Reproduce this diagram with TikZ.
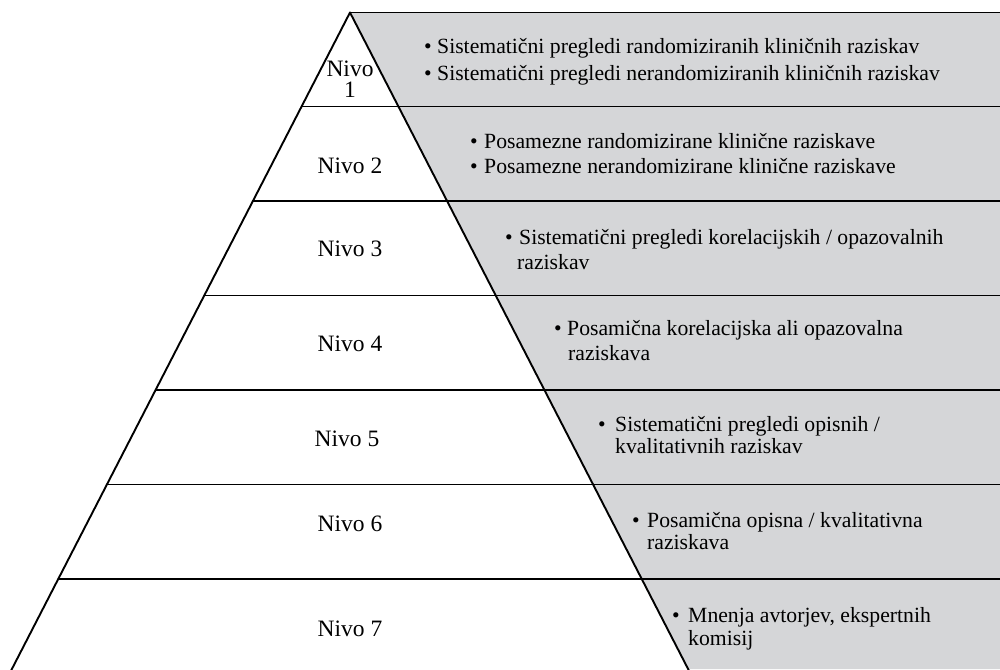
\documentclass[tikz,border=0pt]{standalone}
\usepackage{fontspec}
\setmainfont{Liberation Serif}
\usetikzlibrary{calc}
\definecolor{pgray}{RGB}{213,214,216}
\begin{document}
\begin{tikzpicture}[x=1pt,y=-1pt,
  edge/.style={line width=1.9pt, black, line cap=round},
  lvl/.style={font=\fontsize{23.5}{21}\selectfont, anchor=base, inner sep=0pt},
  bul/.style={font=\fontsize{21.7}{26}\selectfont, anchor=base west, inner sep=0pt},
  itm/.style={font=\fontsize{21.7}{26}\selectfont, anchor=base west, inner sep=0pt}]
\useasboundingbox (0,0) rectangle (1000,669);
\begin{scope}
\clip (0,0) rectangle (1000,669);
\coordinate (apex) at (350,12.5);
\coordinate (bl) at (11.9,669);
\coordinate (br) at (688.1,669);
\coordinate (tr) at (1000,12.5);
\coordinate (brr) at (1000,669);
\fill[pgray] (apex) -- (tr) -- (brr) -- (br) -- cycle;
% horizontal dividers
\coordinate (l1) at (301.6,106.5); \coordinate (r1) at (1000,106.5);
\coordinate (l2) at (252.9,201);   \coordinate (r2) at (1000,201);
\coordinate (l3) at (204.3,295.5); \coordinate (r3) at (1000,295.5);
\coordinate (l4) at (155.6,390);   \coordinate (r4) at (1000,390);
\coordinate (l5) at (106.9,484.5); \coordinate (r5) at (1000,484.5);
\coordinate (l6) at (58.3,579);    \coordinate (r6) at (1000,579);
\foreach \i in {1,...,6} \draw[edge] (l\i) -- (r\i);
\draw[edge] (apex) -- (tr);
\draw[edge] (apex) -- ($(apex)!1.05!(bl)$);
\draw[edge] (apex) -- ($(apex)!1.05!(br)$);
\end{scope}
% level labels
\node[lvl, anchor=center, align=center] (n1) at (350,79.5) {Nivo\\1};
\node[lvl] (n2) at (350,173) {Nivo 2};
\node[lvl] (n3) at (350,256) {Nivo 3};
\node[lvl] (n4) at (350,351) {Nivo 4};
\node[lvl] (n5) at (347,446) {Nivo 5};
\node[lvl] (n6) at (350,531) {Nivo 6};
\node[lvl] (n7) at (350,636) {Nivo 7};
% items
\node[bul] (b1a) at (424,53) {\textbullet};
\node[itm] (t1a) at (437,53) {Sistematični pregledi randomiziranih kliničnih raziskav};
\node[bul] (b1b) at (424,80) {\textbullet};
\node[itm] (t1b) at (437,80) {Sistematični pregledi nerandomiziranih kliničnih raziskav};
\node[bul] (b2a) at (470,148) {\textbullet};
\node[itm] (t2a) at (484,148) {Posamezne randomizirane klinične raziskave};
\node[bul] (b2b) at (470,173) {\textbullet};
\node[itm] (t2b) at (484,173) {Posamezne nerandomizirane klinične raziskave};
\node[bul] (b3) at (505,244) {\textbullet};
\node[itm] (t3a) at (519,244) {Sistematični pregledi korelacijskih / opazovalnih};
\node[itm] (t3b) at (517,269) {raziskav};
\node[bul] (b4) at (554,335) {\textbullet};
\node[itm] (t4a) at (567,335) {Posamična korelacijska ali opazovalna};
\node[itm] (t4b) at (568,360) {raziskava};
\node[bul] (b5) at (598,431) {\textbullet};
\node[itm] (t5a) at (615,431) {Sistematični pregledi opisnih /};
\node[itm] (t5b) at (615,453) {kvalitativnih raziskav};
\node[bul] (b6) at (632,527) {\textbullet};
\node[itm] (t6a) at (647,527) {Posamična opisna / kvalitativna};
\node[itm] (t6b) at (647,549) {raziskava};
\node[bul] (b7) at (672,622) {\textbullet};
\node[itm] (t7a) at (688,622) {Mnenja avtorjev, ekspertnih};
\node[itm] (t7b) at (688,645) {komisij};
\end{tikzpicture}
\end{document}
